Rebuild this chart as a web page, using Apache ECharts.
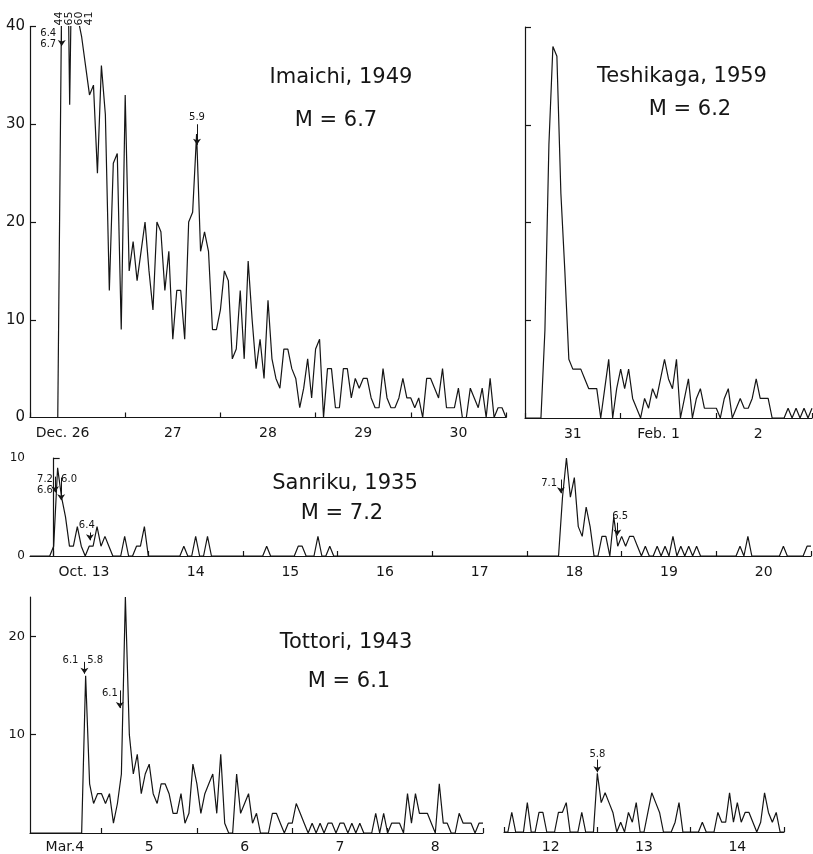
<!DOCTYPE html>
<html>
<head>
<meta charset="utf-8">
<script src="https://cdn.jsdelivr.net/npm/echarts@6/dist/echarts.min.js"></script>
<style>
html,body{margin:0;padding:0;background:#fff;}
#chart{width:813px;height:854px;}
</style>
</head>
<body>
<div id="chart"></div>
<script>
// ---------- DATA: hourly numbers of aftershocks ----------
// hours are counted from 0h of the first labelled day of each panel
const imaichiDays = ['Dec. 26', '27', '28', '29', '30'];
const imaichiStartHour = 0;
const imaichiCounts = [
  0,0,0,0,0,0,0,0,
  44,65,32,60,41,39,36,33,34,25,
  36,31,13,26,27,9,33,15,18,14,
  17,20,15,11,20,19,13,17,8,13,
  13,8,20,21,29,17,19,17,9,9,
  11,15,14,6,7,13,6,16,10,5,
  8,4,12,6,4,3,7,7,5,4,
  1,3,6,2,7,8,0,5,5,1,
  1,5,5,2,4,3,4,4,2,1,
  1,5,2,1,1,2,4,2,2,1,
  2,0,4,4,3,2,5,1,1,1,
  3,0,0,3,2,1,3,0,4,0,
  1,1,0
];
// off-scale counts written above the frame: [text, hour]
const imaichiOverflow = [['44', 7.3], ['65', 9.8], ['60', 12.3], ['41', 14.9]];
// magnitude notes: [text, hour, count]; arrows: [hour, fromCount, toCount]
const imaichiNotes = [['6.4', 4.6, 39.3], ['6.7', 4.6, 38.2], ['5.9', 42.1, 30.7]];
const imaichiArrows = [[8.0, 39.6, 38.0], [42.1, 30.0, 27.9]];

const teshikagaDays = ['31', 'Feb. 1', '2'];
const teshikagaStartHour = 0;
const teshikagaCounts = [
  0,0,0,0,0,9, 28,38,37,23,15,6, 5,5,5,4,3,3, 3,0,3,6,0,3,
  5,3,5,2,1,0, 2,1,3,2,4,6, 4,3,6,0,2,4, 0,2,3,1,1,1,
  1,0,2,3,0,1, 2,1,1,2,4,2, 2,2,0,0,0,0, 1,0,1,0,1,0,
  1
];

const sanrikuDays = ['Oct. 13', '14', '15', '16', '17', '18', '19', '20'];
const sanrikuStartHour = -6;
const sanrikuCounts = [
  0,0,0,0,0,0, 1,9,6,4,1,1, 3,1,0,1,1,3, 1,2,1,0,0,0,
  2,0,0,1,1,3, 0,0,0,0,0,0, 0,0,0,1,0,0, 2,0,0,2,0,0,
  0,0,0,0,0,0, 0,0,0,0,0,0, 1,0,0,0,0,0, 0,0,1,1,0,0,
  0,2,0,0,1,0, 0,0,0,0,0,0, 0,0,0,0,0,0, 0,0,0,0,0,0,
  0,0,0,0,0,0, 0,0,0,0,0,0, 0,0,0,0,0,0, 0,0,0,0,0,0,
  0,0,0,0,0,0, 0,0,0,0,0,0, 0,0,0,6,10,6, 8,3,2,5,3,0,
  0,2,2,0,4,1, 2,1,2,2,1,0, 1,0,0,1,0,1, 0,2,0,1,0,1,
  0,1,0,0,0,0, 0,0,0,0,0,0, 1,0,2,0,0,0, 0,0,0,0,0,1,
  0,0,0,0,0,1,1
];
const sanrikuNotes = [['7.2', -2.2, 7.8], ['6.6', -2.2, 6.7], ['6.0', 3.9, 7.8], ['6.4', 8.4, 3.1],
                      ['7.1', 125.6, 7.4], ['6.5', 143.6, 4.0]];
const sanrikuArrows = [[0.35, 8.1, 6.5], [1.9, 8.0, 5.7], [9.2, 2.4, 1.6], [128.6, 7.8, 6.4], [142.9, 3.4, 2.1]];

const tottoriDays = ['Mar.4', '5', '6', '7', '8'];
const tottoriStartHour = 6;
const tottoriCounts = [
  0,0,0,0,0,0,0,0,0,0,0,0,0,0, 16,5,3,4,4,3,4,1,3,6,
  24,10,6,8,4,6,7,4,3,5,5,4,2,2,4,1,2,7,5,2,4,5,6,2,
  8,1,0,0,6,2,3,4,1,2,0,0,0,2,2,1,0,1,1,3,2,1,0,1,
  0,1,0,1,1,0,1,1,0,1,0,1,0,0,0,2,0,2,0,1,1,1,0,4,
  1,4,2,2,2,1,0,5,1,1,0,0,2,1,1,1,0,1,1
];
const tottoriNotes = [['6.1', 16.2, 17.6], ['5.8', 22.4, 17.6], ['6.1', 26.1, 14.2]];
const tottoriArrows = [[19.7, 17.4, 16.2], [28.6, 14.5, 12.7]];

const tottoriLateDays = ['12', '13', '14'];
const tottoriLateStartHour = 0;
const tottoriLateCounts = [
  0,0,2,0,0,0, 3,0,0,2,2,0, 0,0,2,2,3,0, 0,0,2,0,0,0,
  6,3,4,3,2,0, 1,0,2,1,3,0, 0,2,4,3,2,0, 0,0,1,3,0,0,
  0,0,0,1,0,0, 0,2,1,1,4,1, 3,1,2,2,1,0, 1,4,2,1,2,0,
  0
];
const tottoriLateNotes = [['5.8', 24.0, 7.9]];
const tottoriLateArrows = [[24.0, 7.4, 6.1]];

const titles = [
  ['Imaichi, 1949', 'M = 6.7'],
  ['Teshikaga, 1959', 'M = 6.2'],
  ['Sanriku, 1935', 'M = 7.2'],
  ['Tottori, 1943', 'M = 6.1']
];

// ---------- STYLE / LAYOUT ----------
const INK = '#151515';
const FONT = "'DejaVu Sans', 'Liberation Sans', sans-serif";

function pairs(start, counts) { return counts.map((c, i) => [start + i, c]); }
function multiples(step, lo, hi) {
  const out = [];
  for (let v = Math.ceil(lo / step) * step; v <= hi + 1e-9; v += step) out.push(v);
  return out;
}

function makeX(gi, min, max, days, fontSize, margin, shifts) {
  const rich = {};
  Object.keys(shifts).forEach(k => {
    const s = shifts[k];
    rich['s' + k] = { fontFamily: FONT, fontSize: fontSize, color: INK,
      padding: s > 0 ? [0, 0, 0, 2 * s] : [0, -2 * s, 0, 0] };
  });
  return {
    type: 'value', gridIndex: gi, min: min, max: max,
    axisLine: { show: true, onZero: false, lineStyle: { color: INK, width: 1.2 } },
    axisTick: { show: true, inside: true, length: 5, customValues: multiples(24, min, max),
      lineStyle: { color: INK, width: 1.2 } },
    axisLabel: {
      show: true, customValues: days.map((d, i) => 12 + 24 * i), margin: margin,
      color: INK, fontFamily: FONT, fontSize: fontSize,
      formatter: function (v) {
        const i = Math.round((v - 12) / 24);
        const t = days[i];
        return (shifts[i] !== undefined) ? '{s' + i + '|' + t + '}' : t;
      },
      rich: rich
    },
    splitLine: { show: false }
  };
}

function makeY(gi, max, ticks, labels, fontSize, showLine) {
  return {
    type: 'value', gridIndex: gi, min: 0, max: max,
    axisLine: { show: showLine, lineStyle: { color: INK, width: 1.2 } },
    axisTick: { show: showLine && ticks.length > 0, inside: true, length: 6, customValues: ticks,
      lineStyle: { color: INK, width: 1.2 } },
    axisLabel: { show: labels.length > 0, customValues: labels, margin: 5, color: INK,
      fontFamily: FONT, fontSize: fontSize },
    splitLine: { show: false }
  };
}

function makeSeries(gi, start, counts, notes, arrows, overflow, ymax) {
  const marks = notes.map(n => ({
    coord: [n[1], n[2]],
    label: { formatter: n[0], fontSize: 10 }
  }));
  (overflow || []).forEach(o => marks.push({
    coord: [o[1], ymax],
    label: { formatter: o[0], fontSize: 11, rotate: 90, offset: [8, 0] }
  }));
  return {
    type: 'line', xAxisIndex: gi, yAxisIndex: gi,
    data: pairs(start, counts),
    symbol: 'none', clip: true, silent: true, animation: false,
    lineStyle: { color: INK, width: 1.2 },
    markLine: {
      silent: true, animation: false, symbol: ['none', 'arrow'], symbolSize: 6,
      label: { show: false },
      lineStyle: { color: INK, width: 1, type: 'solid' },
      data: arrows.map(a => [{ coord: [a[0], a[1]] }, { coord: [a[0], a[2]] }])
    },
    markPoint: {
      silent: true, animation: false, symbol: 'rect', symbolSize: 1,
      itemStyle: { color: 'rgba(0,0,0,0)' },
      label: { show: true, position: 'inside', color: INK, fontFamily: FONT, fontSize: 10 },
      data: marks
    }
  };
}

function titleText(text, x, y) {
  return { type: 'text', x: x, y: y, silent: true,
    style: { text: text, fill: INK, font: '21px ' + FONT, textAlign: 'center', textVerticalAlign: 'middle' } };
}

const option = {
  backgroundColor: '#ffffff',
  animation: false,
  grid: [
    { left: 30, top: 26.5, width: 476, height: 391 },
    { left: 525, top: 27, width: 287, height: 391 },
    { left: 30, top: 458, width: 781, height: 98 },
    { left: 30, top: 597, width: 453, height: 236 },
    { left: 504, top: 597, width: 280, height: 236 }
  ],
  xAxis: [
    makeX(0, 0, 120, imaichiDays, 14, 9, { 0: -15 }),
    makeX(1, 0, 72, teshikagaDays, 14, 9, { 1: -10, 2: -6 }),
    makeX(2, -6, 192, sanrikuDays, 14, 9, { 0: -17 }),
    makeX(3, 6, 120, tottoriDays, 14, 7, { 0: 11 }),
    makeX(4, 0, 72, tottoriLateDays, 14, 8, {})
  ],
  yAxis: [
    makeY(0, 40, [10, 20, 30, 40], [0, 10, 20, 30, 40], 15, true),
    makeY(1, 40, [10, 20, 30, 40], [], 15, true),
    makeY(2, 10, [10], [0, 10], 12, true),
    makeY(3, 24, [10, 20], [10, 20], 13, true),
    makeY(4, 24, [], [], 13, false)
  ],
  series: [
    makeSeries(0, imaichiStartHour, imaichiCounts, imaichiNotes, imaichiArrows, imaichiOverflow, 40),
    makeSeries(1, teshikagaStartHour, teshikagaCounts, [], [], null, 40),
    makeSeries(2, sanrikuStartHour, sanrikuCounts, sanrikuNotes, sanrikuArrows, null, 10),
    makeSeries(3, tottoriStartHour, tottoriCounts, tottoriNotes, tottoriArrows, null, 24),
    makeSeries(4, tottoriLateStartHour, tottoriLateCounts, tottoriLateNotes, tottoriLateArrows, null, 24)
  ],
  graphic: [
    titleText(titles[0][0], 341, 78), titleText(titles[0][1], 336, 121),
    titleText(titles[1][0], 682, 77), titleText(titles[1][1], 690, 110),
    titleText(titles[2][0], 345, 484), titleText(titles[2][1], 342, 514),
    titleText(titles[3][0], 346, 643), titleText(titles[3][1], 349, 682)
  ]
};

const chart = echarts.init(document.getElementById('chart'), null, { renderer: 'canvas' });
chart.setOption(option);
</script>
</body>
</html>
